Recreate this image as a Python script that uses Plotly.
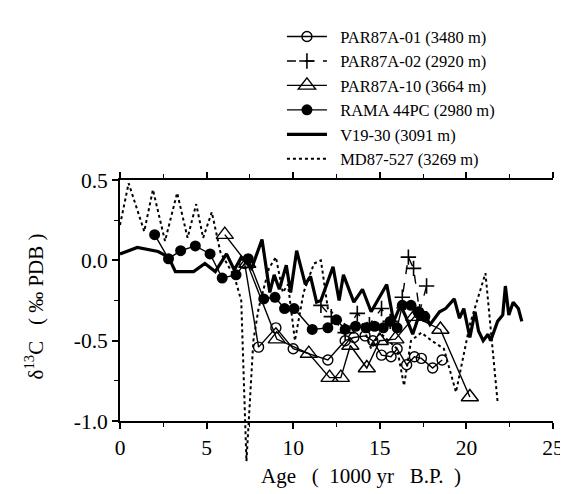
import plotly.graph_objects as go

# ---- data (age in 1000 yr B.P., d13C permil PDB) ----
par01_x = [7.2, 8.0, 9.0, 10.0, 12.0, 13.0, 13.5, 14.15, 14.6, 15.1, 15.65, 16.0, 16.55, 17.0, 17.4, 18.05, 18.6]
par01_y = [-0.02, -0.54, -0.42, -0.55, -0.62, -0.50, -0.48, -0.47, -0.50, -0.59, -0.60, -0.55, -0.65, -0.60, -0.61, -0.67, -0.62]

par02_x = [11.6, 12.2, 13.0, 13.7, 14.4, 15.1, 15.6, 16.3, 16.65, 16.95, 17.3, 17.7]
par02_y = [-0.28, -0.35, -0.45, -0.33, -0.40, -0.30, -0.38, -0.23, 0.02, -0.05, -0.32, -0.16]

par10_x = [6.05, 7.35, 9.05, 10.9, 12.1, 12.75, 13.3, 14.25, 15.0, 15.9, 17.0, 18.5, 20.2]
par10_y = [0.16, -0.02, -0.49, -0.58, -0.73, -0.73, -0.53, -0.67, -0.50, -0.49, -0.35, -0.43, -0.85]

rama_x = [2.0, 2.8, 3.5, 4.35, 5.2, 5.9, 6.7, 7.4, 8.3, 8.95, 9.5, 10.05, 11.1, 12.0, 12.5, 13.0, 13.6, 14.2, 14.7, 15.2, 15.6, 16.0, 16.3, 16.8, 17.2, 17.6]
rama_y = [0.16, 0.01, 0.06, 0.09, 0.04, -0.11, -0.09, 0.01, -0.24, -0.23, -0.30, -0.30, -0.43, -0.42, -0.37, -0.43, -0.41, -0.42, -0.41, -0.42, -0.38, -0.42, -0.28, -0.28, -0.32, -0.35]

v19_x = [0.0, 1.0, 2.2, 2.8, 3.2, 4.25, 4.9, 5.5, 6.15, 6.6, 7.0, 7.6, 8.2, 8.65, 8.9, 9.2, 9.6, 9.85, 10.2, 10.7, 11.0, 11.35, 11.6, 12.3, 12.65, 12.9, 13.5, 14.0, 14.5, 15.0, 15.4, 15.8, 16.2, 16.5, 16.9, 17.4, 17.9, 18.45, 18.8, 19.3, 19.6, 19.85, 20.2, 20.5, 20.7, 20.97, 21.25, 21.4, 21.8, 22.1, 22.25, 22.45, 22.7, 23.0, 23.2]
v19_y = [0.04, 0.08, 0.055, 0.02, -0.07, -0.07, -0.02, -0.07, 0.04, -0.06, 0.02, -0.05, 0.13, -0.20, -0.09, -0.18, -0.03, -0.20, 0.06, -0.15, -0.10, -0.26, -0.25, -0.04, -0.25, -0.09, -0.26, -0.18, -0.32, -0.22, -0.15, -0.38, -0.28, -0.35, -0.46, -0.30, -0.40, -0.32, -0.30, -0.24, -0.36, -0.30, -0.48, -0.32, -0.44, -0.50, -0.46, -0.50, -0.38, -0.34, -0.16, -0.34, -0.26, -0.30, -0.38]

md_x = [0.0, 0.5, 1.4, 1.9, 2.6, 3.3, 3.9, 4.4, 4.8, 5.3, 5.8, 6.6, 7.0, 7.3, 7.7, 8.0, 8.6, 9.0, 9.4, 9.7, 10.1, 10.6, 11.2, 11.6, 12.0, 12.5, 13.0, 13.5, 14.0, 14.5, 15.0, 15.5, 16.0, 16.4, 16.8, 17.4, 18.0, 18.7, 19.4, 20.2, 21.1, 21.8]
md_y = [0.22, 0.48, 0.18, 0.44, 0.12, 0.42, 0.14, 0.35, 0.14, 0.30, 0.05, -0.10, -0.25, -1.25, -0.50, -0.30, -0.05, 0.02, -0.20, -0.15, -0.50, -0.20, -0.02, 0.00, -0.30, -0.35, -0.40, -0.45, -0.40, -0.55, -0.45, -0.50, -0.55, -0.78, -0.50, -0.45, -0.50, -0.55, -0.82, -0.40, -0.08, -0.88]

x_ticks = [0, 5, 10, 15, 20, 25]
y_ticks = [-1.0, -0.5, 0.0, 0.5]
y_ticktext = ["-1.0", "-0.5", "0.0", "0.5"]

FONT = "Liberation Serif, Times New Roman, serif"
NB = "\u00a0"

fig = go.Figure()
thin = dict(color="black", width=1.4)

def nm(s):
    return NB * 2 + s

fig.add_trace(go.Scatter(x=par01_x, y=par01_y, mode="lines+markers", name=nm("PAR87A-01 (3480 m)"),
                         line=thin, marker=dict(symbol="circle-open", size=10, color="black", line=dict(width=1.4))))
fig.add_trace(go.Scatter(x=par02_x, y=par02_y, mode="lines+markers", name=nm("PAR87A-02 (2920 m)"),
                         line=dict(color="black", width=1.4, dash="dash"),
                         marker=dict(symbol="cross-thin-open", size=11, color="black", line=dict(width=1.6))))
fig.add_trace(go.Scatter(x=par10_x, y=par10_y, mode="lines+markers", name=nm("PAR87A-10 (3664 m)"),
                         line=thin, marker=dict(symbol="triangle-up-open", size=15, color="black", line=dict(width=1.4))))
fig.add_trace(go.Scatter(x=rama_x, y=rama_y, mode="lines+markers", name=nm("RAMA 44PC (2980 m)"),
                         line=thin, marker=dict(symbol="circle", size=11, color="black")))
fig.add_trace(go.Scatter(x=v19_x, y=v19_y, mode="lines", name=nm("V19-30 (3091 m)"),
                         line=dict(color="black", width=3.2)))
# dotted record on a hidden twin axis whose domain extends below the x axis, so its deep dip can pass the axis
fig.add_trace(go.Scatter(x=md_x, y=md_y, mode="lines", name=nm("MD87-527 (3269 m)"), xaxis="x", yaxis="y2",
                         line=dict(color="black", width=2, dash="dot")))

d = 0.163  # bottom of main y domain within the plotting area
y2_low = -1.0 - d * 1.5 / (1 - d)

fig.update_layout(
    width=568, height=494,
    margin=dict(l=112, r=20, t=166, b=34),
    paper_bgcolor="white", plot_bgcolor="rgba(0,0,0,0)",
    font=dict(family=FONT, color="black", size=21),
    showlegend=True,
    legend=dict(x=0.374, y=1.558, xanchor="left", yanchor="top", bgcolor="rgba(0,0,0,0)",
                font=dict(family=FONT, size=16.5, color="black"), tracegroupgap=0, itemwidth=40),
    xaxis=dict(range=[0, 25], tickvals=x_ticks, showgrid=False, zeroline=False,
               showline=True, linecolor="black", linewidth=1.8, mirror="ticks",
               ticks="outside", ticklen=6, tickwidth=1.5, tickcolor="black",
               minor=dict(dtick=2.5, ticks="outside", ticklen=4, tickcolor="black", tickwidth=1.2),
               anchor="y", ticklabeloverflow="allow", tickfont=dict(family=FONT, size=21.5)),
    yaxis=dict(range=[-1.0, 0.5], domain=[d, 1], tickvals=y_ticks, ticktext=y_ticktext, anchor="x",
               showgrid=False, zeroline=False, showline=True, linecolor="black", linewidth=1.8,
               ticks="outside", ticklen=6, tickwidth=1.5, tickcolor="black",
               minor=dict(dtick=0.25, ticks="outside", ticklen=4, tickcolor="black", tickwidth=1.2),
               tickfont=dict(family=FONT, size=21.5)),
    yaxis2=dict(range=[y2_low, 0.5], domain=[0, 1], anchor="x", visible=False, showgrid=False, zeroline=False),
    annotations=[
        dict(text="Age" + NB * 3 + "(" + NB * 2 + "1000 yr" + NB * 3 + "B.P." + NB * 2 + ")", xref="paper", yref="paper",
             x=0.557, y=-0.027, showarrow=False, font=dict(family=FONT, size=21),
             xanchor="center", yanchor="middle"),
        dict(text="δ<sup>13</sup>C" + NB * 3 + "(" + NB + "‰ PDB" + NB + ")", xref="paper", yref="paper",
             x=-0.197, y=0.56, textangle=-90, showarrow=False, font=dict(family=FONT, size=21),
             xanchor="center", yanchor="middle"),
    ],
)

fig.write_html("out.html")
